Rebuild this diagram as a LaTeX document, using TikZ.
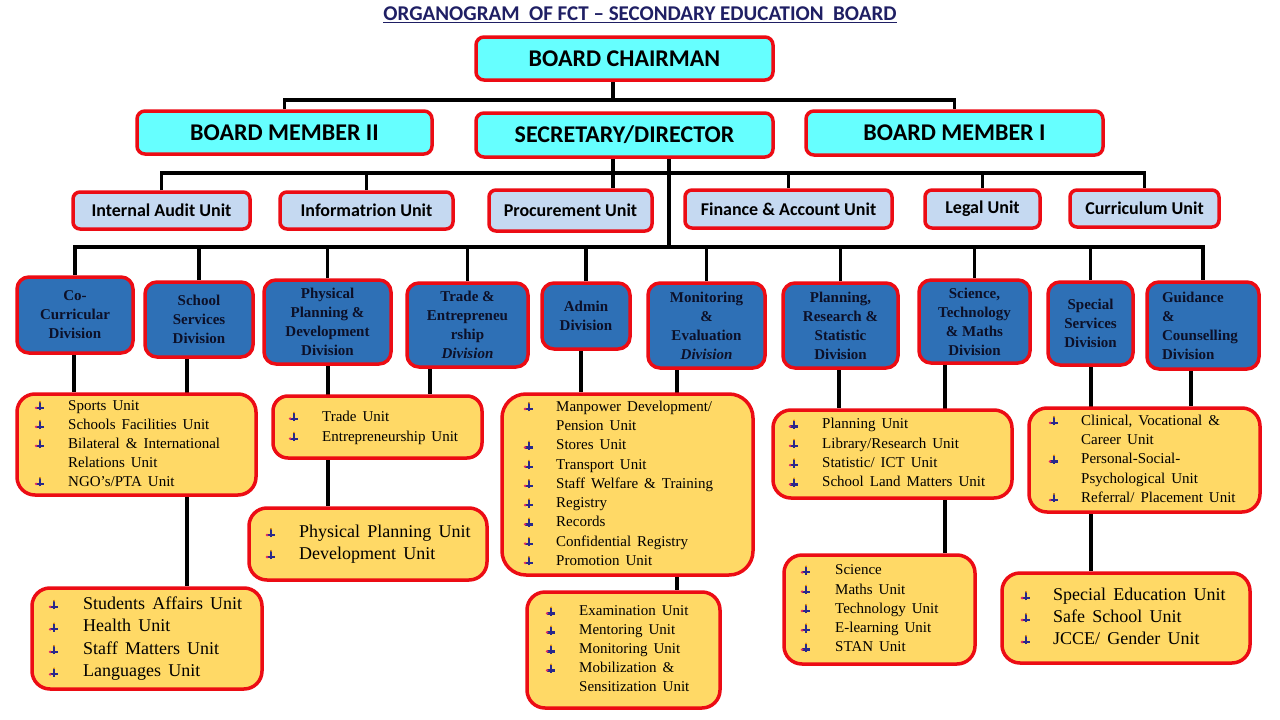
\documentclass[tikz,border=0pt]{standalone}
\usepackage{fontspec}
\setmainfont{Liberation Serif}
\newfontfamily\calib{Carlito}
\usetikzlibrary{calc}
\pgfdeclarelayer{background}
\pgfdeclarelayer{paper}
\pgfsetlayers{paper,background,main}
\definecolor{cyanbox}{RGB}{102,255,255}
\definecolor{redb}{RGB}{236,12,20}
\definecolor{unitfill}{RGB}{197,217,241}
\definecolor{divfill}{RGB}{46,112,182}
\definecolor{divtext}{RGB}{12,16,40}
\definecolor{yel}{RGB}{255,217,102}
\definecolor{navyt}{RGB}{31,31,100}
\definecolor{bulnavy}{RGB}{40,40,140}
\definecolor{bulred}{RGB}{225,40,100}
\newcommand\bul{\tikz[baseline=0pt,x=1pt,y=1pt,line cap=butt]{%
  \draw[bulnavy,line width=1.8pt](0,0)--(0,9);
  \draw[bulnavy,line width=2.2pt](-4,2.4)--(4,2.4);
  \fill[bulred](-4,2.4) circle(1.4);
  \fill[orange!70!yellow](0,8.6) circle(1);}}
\newcommand\ulist[4]{{\fontsize{#1}{#2}\selectfont\spaceskip=0.4em plus 0.1em
  \begin{tabular}{@{}p{#3pt}@{}l@{}}#4\end{tabular}}}
\begin{document}
\begin{tikzpicture}[x=1pt,y=-1pt,
  topbox/.style={draw=redb,line width=3.5pt,fill=cyanbox,rounded corners=8pt,
    font=\calib\bfseries\fontsize{24}{28}\selectfont,inner sep=0pt},
  unitbox/.style={draw=redb,line width=3.5pt,fill=unitfill,rounded corners=7pt,
    font=\calib\bfseries\fontsize{18}{21}\selectfont,inner sep=0pt},
  divbox/.style={draw=redb,line width=3.5pt,fill=divfill,rounded corners=12pt,
    font=\bfseries\fontsize{15}{19}\selectfont,text=divtext,align=center,inner sep=1pt},
  ybox/.style={draw=redb,line width=3.5pt,fill=yel,rounded corners=18pt,inner sep=0pt},
  ltext/.style={anchor=west,inner sep=0pt,text=black},
  conn/.style={line width=3.5pt,black}]
\begin{pgfonlayer}{paper}
\fill[white] (0,0) rectangle (1280,720);
\end{pgfonlayer}
\useasboundingbox (0,0) rectangle (1280,720);

% title
\node[font=\calib\bfseries\fontsize{21}{24}\selectfont,text=navyt,inner sep=0pt] (title) at (640,15)
  {\underline{ORGANOGRAM\ \ OF FCT – SECONDARY EDUCATION\ \ BOARD}};

% top level
\node[topbox,minimum width=297,minimum height=43] (chair) at (624.5,58.5) {BOARD CHAIRMAN};
\node[topbox,minimum width=295,minimum height=43] (bm2) at (284.5,132.5) {BOARD MEMBER II};
\node[topbox,minimum width=297,minimum height=44] (sec) at (624.5,135) {SECRETARY/DIRECTOR};
\node[topbox,minimum width=297,minimum height=44] (bm1) at (954.5,133) {BOARD MEMBER I};

% units
\node[unitbox,minimum width=177,minimum height=37] (ia) at (161.5,210.5) {Internal Audit Unit};
\node[unitbox,minimum width=173,minimum height=37] (inf) at (366.5,210.5) {Informatrion Unit};
\node[unitbox,minimum width=163,minimum height=41] (pro) at (570.5,210.5) {Procurement Unit};
\node[unitbox,minimum width=207,minimum height=38] (fin) at (788.5,209) {Finance \& Account Unit};
\node[unitbox,minimum width=115,minimum height=38] (leg) at (982.5,209) {Legal Unit};
\node[unitbox,minimum width=149,minimum height=37] (cur) at (1144.5,208.5) {Curriculum Unit};

% divisions
\node[divbox,minimum width=116,minimum height=76] (d1) at (75,315) {Co-\\Curricular\\Division};
\node[divbox,minimum width=108,minimum height=75] (d2) at (199,319.5) {School\\Services\\Division};
\node[divbox,minimum width=127,minimum height=84] (d3) at (327.5,322) {Physical\\Planning \&\\Development\\Division};
\node[divbox,minimum width=121,minimum height=84] (d4) at (467.5,325) {Trade \&\\Entrepreneu\\rship\\\textit{Division}};
\node[divbox,minimum width=88,minimum height=66] (d5) at (586,316) {Admin\\Division};
\node[divbox,minimum width=117,minimum height=85] (d6) at (706.5,325.5) {Monitoring\\\&\\Evaluation\\\textit{Division}};
\node[divbox,minimum width=115,minimum height=85] (d7) at (840.5,325.5) {Planning,\\Research \&\\Statistic\\Division};
\node[divbox,minimum width=111,minimum height=83] (d8) at (974.5,321.5) {Science,\\Technology\\\& Maths\\Division};
\node[divbox,minimum width=85,minimum height=83] (d9) at (1090.5,323.5) {Special\\Services\\Division};
\node[divbox,align=left,text width=82,inner xsep=15,minimum height=87] (d10) at (1203,325.5) {Guidance\\\&\\Counselling\\Division};

% yellow boxes
\node[ybox,minimum width=239,minimum height=101] (y1) at (136.5,444.5) {};
\node[ltext] (y1t) at (34.5,444.5) {\ulist{15}{19}{33.5}{%
  \bul & Sports Unit\\ \bul & Schools Facilities Unit\\ \bul & Bilateral \& International\\
  & Relations Unit\\ \bul & NGO's/PTA Unit}};

\node[ybox,minimum width=230,minimum height=101] (y2) at (147,638.5) {};
\node[ltext] (y2t) at (48.5,638.5) {\ulist{18}{22.5}{34.5}{%
  \bul & Students Affairs Unit\\ \bul & Health Unit\\ \bul & Staff Matters Unit\\ \bul & Languages Unit}};

\node[ybox,minimum width=209,minimum height=62,rounded corners=15pt] (y3) at (377.5,427) {};
\node[ltext] (y3t) at (288.5,427) {\ulist{15}{20}{33.5}{%
  \bul & Trade Unit\\ \bul & Entrepreneurship Unit}};

\node[ybox,minimum width=238,minimum height=72] (y4) at (368,544) {};
\node[ltext] (y4t) at (265.5,544) {\ulist{18}{22}{33.5}{%
  \bul & Physical Planning Unit\\ \bul & Development Unit}};

\node[ybox,minimum width=251,minimum height=181,rounded corners=24pt] (y5) at (627.5,484.5) {};
\node[ltext] (y5t) at (523.5,484.5) {\ulist{15}{19.25}{32.5}{%
  \bul & Manpower Development/\\ & Pension Unit\\ \bul & Stores Unit\\ \bul & Transport Unit\\
  \bul & Staff Welfare \& Training\\ \bul & Registry\\ \bul & Records\\
  \bul & Confidential Registry\\ \bul & Promotion Unit}};

\node[ybox,minimum width=193,minimum height=116] (y6) at (623.5,650) {};
\node[ltext] (y6t) at (545.5,650) {\ulist{15}{19}{33.5}{%
  \bul & Examination Unit\\ \bul & Mentoring Unit\\ \bul & Monitoring Unit\\
  \bul & Mobilization \&\\ & Sensitization Unit}};

\node[ybox,minimum width=239,minimum height=88] (y7) at (892.5,454) {};
\node[ltext] (y7t) at (788.5,454) {\ulist{15}{19.3}{33.5}{%
  \bul & Planning Unit\\ \bul & Library/Research Unit\\ \bul & Statistic/ ICT Unit\\
  \bul & School Land Matters Unit}};

\node[ybox,minimum width=231,minimum height=104] (y8) at (1144.5,460) {};
\node[ltext] (y8t) at (1048.5,460) {\ulist{15}{19.3}{32.5}{%
  \bul & Clinical, Vocational \&\\ & Career Unit\\ \bul & Personal-Social-\\
  & Psychological Unit\\ \bul & Referral/ Placement Unit}};

\node[ybox,minimum width=191,minimum height=109] (y9) at (879.5,609.5) {};
\node[ltext] (y9t) at (800.5,609.5) {\ulist{15}{19.3}{34.5}{%
  \bul & Science\\ \bul & Maths Unit\\ \bul & Technology Unit\\ \bul & E-learning Unit\\ \bul & STAN Unit}};

\node[ybox,minimum width=248,minimum height=90] (y10) at (1126,618) {};
\node[ltext] (y10t) at (1020.5,618) {\ulist{18}{22}{32.5}{%
  \bul & Special Education Unit\\ \bul & Safe School Unit\\ \bul & JCCE/ Gender Unit}};

% connectors
\begin{pgfonlayer}{background}
\coordinate (jA) at (613,100);
\draw[conn] (chair.south -| jA) -- (jA);
\draw[conn] (bm2.north) |- (jA) -| (bm1.north);
\coordinate (jB) at (613,173);
\draw[conn] (sec.south -| jB) -- (pro.north -| jB);
\draw[conn] (ia.north) |- (jB) -| (cur.north);
\foreach \n in {inf,fin,leg} { \draw[conn] (\n.north) -- (\n.north |- jB); }
\coordinate (jC) at (669,247);
\draw[conn] (sec.south -| jC) -- (jC);
\draw[conn] (d1.north) |- (jC) -| (d10.north);
\foreach \n in {d2,d3,d4,d5,d6,d7,d8,d9} { \draw[conn] (\n.north) -- (\n.north |- jC); }
\foreach \a/\b/\x in {d1/y1/74, d2/y2/187, d3/y4/328, d4/y3/430, d5/y5/581, d6/y6/677,
  d7/y7/839, d8/y9/945, d9/y10/1091, d10/y8/1191} {
  \coordinate (t) at (\x,0);
  \draw[conn] (\a.south -| t) -- (\b.north -| t);
}
\end{pgfonlayer}
\end{tikzpicture}
\end{document}
